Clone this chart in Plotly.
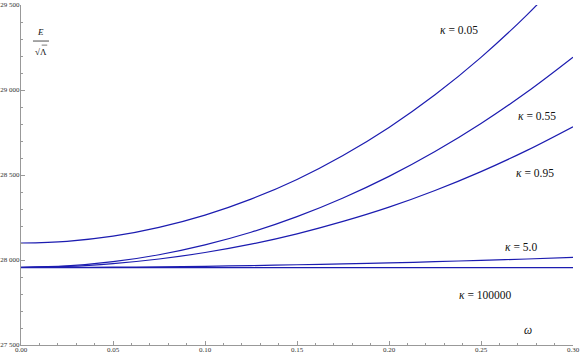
import plotly.graph_objects as go

omega = [0.0, 0.025, 0.05, 0.075, 0.1, 0.125, 0.15, 0.175, 0.2, 0.225, 0.25, 0.275, 0.3]

E_k005 = [28100, 28110, 28140, 28192, 28264, 28358, 28474, 28615, 28780, 28972, 29192, 29442, 29724]
E_k055 = [27957, 27965, 27990, 28031, 28089, 28163, 28255, 28365, 28492, 28638, 28803, 28988, 29193]
E_k095 = [27957, 27962, 27979, 28006, 28044, 28093, 28154, 28227, 28311, 28409, 28520, 28645, 28784]
E_k5 = [27956, 27956, 27958, 27960, 27963, 27967, 27972, 27977, 27983, 27990, 27998, 28006, 28015]
E_k100000 = [27955, 27955, 27955, 27955, 27955, 27955, 27955, 27955, 27955, 27955, 27955, 27955, 27955]

series = [
    ("κ = 0.05", E_k005),
    ("κ = 0.55", E_k055),
    ("κ = 0.95", E_k095),
    ("κ = 5.0", E_k5),
    ("κ = 100000", E_k100000),
]

x_ticks = [0.0, 0.05, 0.10, 0.15, 0.20, 0.25, 0.30]
y_ticks = [27500, 28000, 28500, 29000, 29500]

line_color = "#1c1cb0"
serif = "Liberation Serif, Times New Roman, serif"

fig = go.Figure()
for name, ys in series:
    fig.add_trace(go.Scatter(x=omega, y=ys, mode="lines", name=name,
                             line=dict(color=line_color, width=1.2, shape="spline"),
                             showlegend=False, cliponaxis=True))

labels = [
    ("<i>κ</i> = 0.05", 0.238, 29353),
    ("<i>κ</i> = 0.55", 0.2804, 28847),
    ("<i>κ</i> = 0.95", 0.2793, 28512),
    ("<i>κ</i> = 5.0", 0.2717, 28076),
    ("<i>κ</i> = 100000", 0.2522, 27794),
    ("<i>ω</i>", 0.2755, 27588),
]
for txt, xx, yy in labels:
    fig.add_annotation(x=xx, y=yy, text=txt, showarrow=False, xanchor="center", yanchor="middle",
                       font=dict(family=serif, size=11.5, color="#111"))

fig.add_annotation(x=0.0362, y=0.922, xref="paper", yref="paper", text="<i>E</i>",
                   xanchor="center", yanchor="middle",
                   showarrow=False, font=dict(family=serif, size=9, color="#111"))
fig.add_annotation(x=0.0362, y=0.862, xref="paper", yref="paper", text="√Λ",
                   xanchor="center", yanchor="middle",
                   showarrow=False, font=dict(family=serif, size=9, color="#111"))
fig.add_shape(type="line", xref="paper", yref="paper", x0=0.0217, x1=0.0507, y0=0.894, y1=0.894,
              line=dict(color="#222", width=0.8))
fig.add_shape(type="line", xref="paper", yref="paper", x0=0.0375, x1=0.0475, y0=0.882, y1=0.882,
              line=dict(color="#222", width=0.6))

axis_common = dict(showgrid=False, zeroline=False, showline=True, linecolor="#999", linewidth=1,
                   ticks="inside", ticklen=4, tickcolor="#999", tickwidth=1, automargin=False,
                   tickfont=dict(family=serif, size=7, color="#333"), mirror=False)

fig.update_xaxes(range=[0, 0.30], tickvals=x_ticks, tickformat=".2f", ticklabelstandoff=-2,
                 minor=dict(ticks="inside", ticklen=2, tickcolor="#999", dtick=0.01, tick0=0),
                 **axis_common)
fig.update_yaxes(range=[27500, 29500], tickvals=y_ticks, tickformat=",d", ticklabelstandoff=-1,
                 minor=dict(ticks="inside", ticklen=2, tickcolor="#999", dtick=100, tick0=27500),
                 **axis_common)

fig.update_layout(width=581, height=358, margin=dict(l=21, r=8, t=5, b=13),
                  plot_bgcolor="white", paper_bgcolor="white", separators=". ")

fig.write_html("out.html", config={"displayModeBar": False},
               post_script="document.body.style.margin='0px';")
